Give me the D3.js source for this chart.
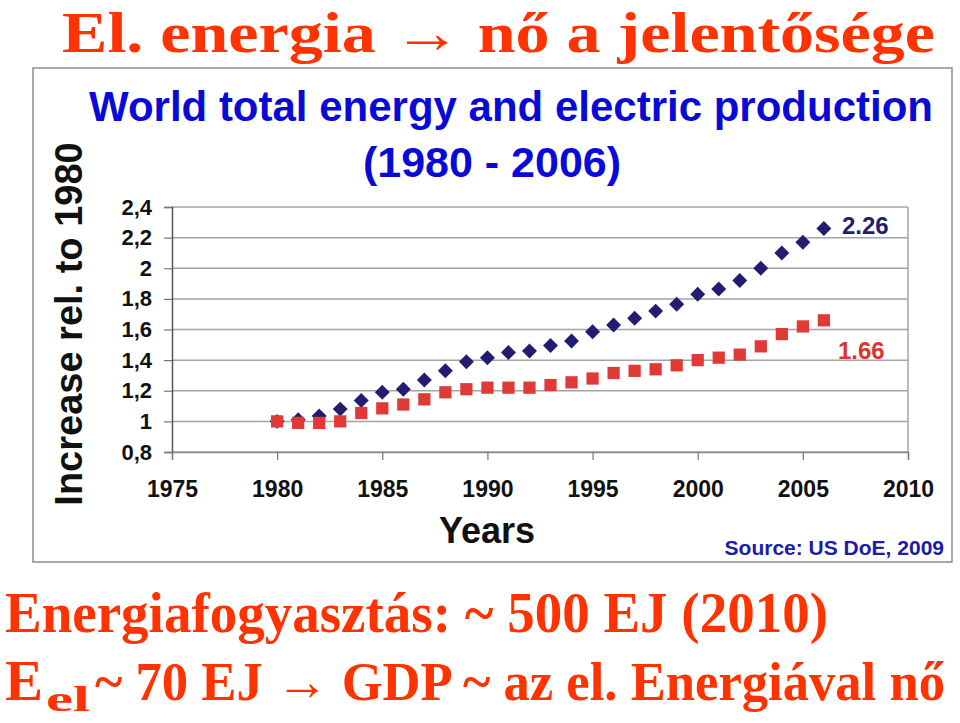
<!DOCTYPE html>
<html>
<head>
<meta charset="utf-8">
<script src="https://cdn.jsdelivr.net/npm/d3@7/dist/d3.min.js"></script>
<style>
  html, body { margin: 0; padding: 0; background: #fff; }
  svg { display: block; }
</style>
</head>
<body>
<svg id="chart" width="960" height="723"></svg>
<script>
const years = [1980,1981,1982,1983,1984,1985,1986,1987,1988,1989,1990,1991,1992,1993,1994,1995,1996,1997,1998,1999,2000,2001,2002,2003,2004,2005,2006];
const totalEnergy = [1.00,1.01,1.035,1.08,1.137,1.19,1.21,1.27,1.33,1.39,1.416,1.45,1.46,1.495,1.525,1.586,1.63,1.673,1.72,1.765,1.83,1.865,1.92,2.00,2.10,2.17,2.26];
const electricProd = [1.00,0.99,0.99,1.00,1.055,1.085,1.11,1.144,1.19,1.21,1.22,1.22,1.22,1.237,1.255,1.28,1.316,1.33,1.34,1.366,1.40,1.416,1.436,1.49,1.57,1.62,1.66];
const xTicks = [1975,1980,1985,1990,1995,2000,2005,2010];
const yTicks = [0.8,1.0,1.2,1.4,1.6,1.8,2.0,2.2,2.4];
const endLabels = ["2.26","1.66"];

const svg = d3.select("#chart");
const red = "#ff3300";
const serif = "'Liberation Serif','Times New Roman',serif";
const sans = "'Liberation Sans',Arial,sans-serif";

// Slide title
svg.append("text").attr("transform", "translate(62,52) scale(1,1.1)")
  .attr("font-family", serif).attr("font-weight", "bold").attr("font-size", 52)
  .attr("textLength", 873).attr("lengthAdjust", "spacingAndGlyphs")
  .attr("fill", red).text("El. energia \u2192 nő a jelentősége");

// Chart frame
svg.append("rect").attr("x", 33).attr("y", 68).attr("width", 919).attr("height", 494)
  .attr("fill", "#fff").attr("stroke", "#8c8c8c").attr("stroke-width", 1.5);

// Chart title
svg.append("text").attr("x", 511).attr("y", 121).attr("text-anchor", "middle")
  .attr("font-family", sans).attr("font-weight", "bold").attr("font-size", 42)
  .attr("fill", "#0a0ad8").text("World total energy and electric production");
svg.append("text").attr("x", 492).attr("y", 177).attr("text-anchor", "middle")
  .attr("font-family", sans).attr("font-weight", "bold").attr("font-size", 43)
  .attr("fill", "#0a0ad8").text("(1980 - 2006)");

const x = d3.scaleLinear().domain([1975, 2010]).range([172, 908]);
const y = d3.scaleLinear().domain([0.8, 2.4]).range([452, 207]);

// gridlines
svg.append("g").selectAll("line").data(yTicks).join("line")
  .attr("x1", 172).attr("x2", 908)
  .attr("y1", d => y(d)).attr("y2", d => y(d))
  .attr("stroke", "#a3a3a3").attr("stroke-width", 1.5);
// right border
svg.append("line").attr("x1", 908).attr("x2", 908).attr("y1", y(2.4)).attr("y2", y(0.8))
  .attr("stroke", "#a3a3a3").attr("stroke-width", 1.5);

// axes
const yAxis = svg.append("g").attr("transform", "translate(172,0)")
  .call(d3.axisLeft(y).tickValues(yTicks).tickSize(8).tickPadding(12)
    .tickFormat(d => d3.format(".1f")(d).replace(".0", "").replace(".", ",")));
yAxis.select(".domain").attr("stroke", "#555").attr("stroke-width", 1.5);
yAxis.selectAll(".tick line").attr("stroke", "#777").attr("stroke-width", 1.2);
yAxis.selectAll("text").attr("font-family", sans).attr("font-weight", "bold")
  .attr("font-size", 22).attr("fill", "#111");

const xAxis = svg.append("g").attr("transform", "translate(0,452)")
  .call(d3.axisBottom(x).tickValues(xTicks).tickSize(8).tickPadding(21).tickFormat(d3.format("d")));
xAxis.select(".domain").attr("stroke", "#8a8a8a").attr("stroke-width", 1.5);
xAxis.selectAll(".tick line").attr("stroke", "#777").attr("stroke-width", 1.2);
xAxis.selectAll("text").attr("font-family", sans).attr("font-weight", "bold")
  .attr("font-size", 23).attr("fill", "#111");

// Axis titles
svg.append("text").attr("transform", "translate(82,324) rotate(-90)").attr("text-anchor", "middle")
  .attr("font-family", sans).attr("font-weight", "bold").attr("font-size", 38)
  .attr("fill", "#111").text("Increase rel. to 1980");
svg.append("text").attr("x", 487).attr("y", 543).attr("text-anchor", "middle")
  .attr("font-family", sans).attr("font-weight", "bold").attr("font-size", 36)
  .attr("fill", "#111").text("Years");
svg.append("text").attr("x", 944).attr("y", 555).attr("text-anchor", "end")
  .attr("font-family", sans).attr("font-weight", "bold").attr("font-size", 21)
  .attr("fill", "#1c1ca6").text("Source: US DoE, 2009");

// markers
const diamond = d3.symbol().type(d3.symbolSquare).size(112);
svg.append("g").selectAll("path").data(years.map((yr, i) => [yr, totalEnergy[i]])).join("path")
  .attr("d", diamond)
  .attr("transform", d => `translate(${x(d[0])},${y(d[1])}) rotate(45)`)
  .attr("fill", "#221d70");
const square = d3.symbol().type(d3.symbolSquare).size(150);
svg.append("g").selectAll("path").data(years.map((yr, i) => [yr, electricProd[i]])).join("path")
  .attr("d", square)
  .attr("transform", d => `translate(${x(d[0])},${y(d[1])})`)
  .attr("fill", "#e03a36");

// end labels
svg.append("text").attr("x", 842).attr("y", 234)
  .attr("font-family", sans).attr("font-weight", "bold").attr("font-size", 24)
  .attr("fill", "#221d70").text(endLabels[0]);
svg.append("text").attr("x", 838).attr("y", 359)
  .attr("font-family", sans).attr("font-weight", "bold").attr("font-size", 24)
  .attr("fill", "#d9362f").text(endLabels[1]);

// Bottom text
svg.append("text").attr("x", 5).attr("y", 632)
  .attr("font-family", serif).attr("font-weight", "bold").attr("font-size", 57)
  .attr("textLength", 823).attr("lengthAdjust", "spacingAndGlyphs")
  .attr("fill", red).text("Energiafogyasztás: ~ 500 EJ (2010)");
svg.append("text").attr("x", 5).attr("y", 700)
  .attr("font-family", serif).attr("font-weight", "bold").attr("font-size", 57)
  .attr("fill", red).text("E");
svg.append("text").attr("x", 46).attr("y", 711)
  .attr("font-family", serif).attr("font-weight", "bold").attr("font-size", 35)
  .attr("textLength", 44).attr("lengthAdjust", "spacingAndGlyphs")
  .attr("fill", red).text("el");
svg.append("text").attr("x", 95).attr("y", 700)
  .attr("font-family", serif).attr("font-weight", "bold").attr("font-size", 55)
  .attr("textLength", 850).attr("lengthAdjust", "spacingAndGlyphs")
  .attr("fill", red).text("~ 70 EJ \u2192 GDP ~ az el. Energiával nő");
</script>
</body>
</html>
